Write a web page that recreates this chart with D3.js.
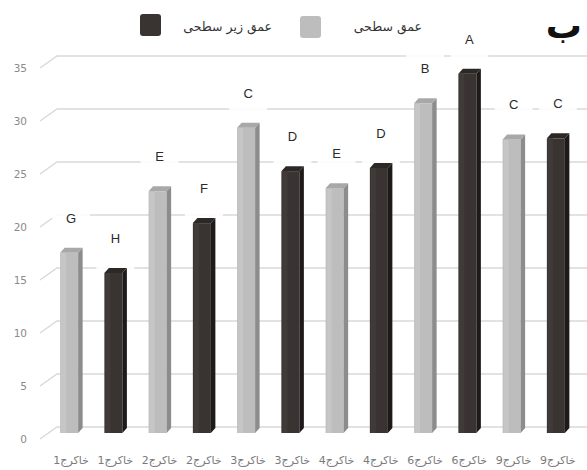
<!DOCTYPE html>
<html>
<head>
<meta charset="utf-8">
<script src="https://cdn.jsdelivr.net/npm/d3@7"></script>
<style>
  html, body { margin: 0; padding: 0; background: #fff; }
  svg { display: block; }
</style>
</head>
<body>
<svg id="chart" width="587" height="470"></svg>
<script>
// Sites along the x axis (each site has a surface and a subsurface bar)
const sites = ["خاکرج1", "خاکرج2", "خاکرج3", "خاکرج4", "خاکرج6", "خاکرج9"];
const seriesNames = ["عمق سطحی", "عمق زیر سطحی"];
const surfaceValues = [17.0, 22.8, 28.8, 23.1, 31.1, 27.7];
const subsurfaceValues = [15.1, 19.8, 24.7, 25.0, 33.9, 27.8];
const surfaceLetters = ["G", "E", "C", "E", "B", "C"];
const subsurfaceLetters = ["H", "F", "D", "D", "A", "C"];
const yTicks = [0, 5, 10, 15, 20, 25, 30, 35];
const panelLabel = "ب";

// Flat table: surface then subsurface for every site
const rows = [];
sites.forEach((s, i) => {
  rows.push({ id: i * 2, site: s, series: 0, value: surfaceValues[i], letter: surfaceLetters[i] });
  rows.push({ id: i * 2 + 1, site: s, series: 1, value: subsurfaceValues[i], letter: subsurfaceLetters[i] });
});

const palette = [
  { front: "#bdbdbd", light: "#c6c6c6", side: "#8c8c8c", top: "#a8a8a8" },
  { front: "#393432", light: "#403b39", side: "#1e1a19", top: "#2c2826" }
];

const svg = d3.select("#chart");

const y = d3.scaleLinear().domain([0, 35]).range([427, 56]);
const x = d3.scaleBand()
  .domain(rows.map(d => d.id))
  .range([47, 578])
  .paddingInner(0.593)
  .paddingOuter(0.2966);

const dx = 4.5, dy = -5;        // bar depth offset
const front = v => y(v) + 6;    // front edge of a bar at value v
const floorY = front(0);

// Back-wall gridlines with the perspective floor stub on the left
const grid = svg.append("g").attr("class", "grid");
grid.selectAll("path")
  .data(yTicks)
  .join("path")
  .attr("d", t => `M40,${y(t) + 12} L57,${y(t)} L587,${y(t)}`)
  .attr("fill", "none")
  .attr("stroke", "#d9d9d9")
  .attr("stroke-width", 1.4);

// Y axis tick labels
const yAxis = d3.axisLeft(y).tickValues(yTicks).tickSize(0).tickPadding(0);
const ya = svg.append("g").attr("transform", "translate(27,12)").call(yAxis);
ya.select(".domain").remove();
ya.selectAll("text")
  .attr("fill", "#8a8a8a")
  .attr("font-family", "'DejaVu Sans', sans-serif")
  .attr("font-size", 10.5);

// Label backgrounds (white boxes that mask the gridlines)
svg.append("g").selectAll("rect")
  .data(rows)
  .join("rect")
  .attr("x", d => x(d.id) + x.bandwidth() / 2 + 2 - 19)
  .attr("y", d => front(d.value) - 52)
  .attr("width", 38)
  .attr("height", 48)
  .attr("fill", "#fff")
  .attr("opacity", 0.9);

// Bars
const bars = svg.append("g").selectAll("g")
  .data(rows)
  .join("g");

bars.append("rect")
  .attr("x", d => x(d.id))
  .attr("y", d => front(d.value))
  .attr("width", x.bandwidth())
  .attr("height", d => floorY - front(d.value))
  .attr("fill", d => palette[d.series].front);

bars.append("rect")
  .attr("x", d => x(d.id) + 1)
  .attr("y", d => front(d.value))
  .attr("width", 5)
  .attr("height", d => floorY - front(d.value))
  .attr("fill", d => palette[d.series].light);

bars.append("path")
  .attr("d", d => {
    const x1 = x(d.id) + x.bandwidth(), t = front(d.value);
    return `M${x1},${t} L${x1 + dx},${t + dy} L${x1 + dx},${floorY + dy} L${x1},${floorY} Z`;
  })
  .attr("fill", d => palette[d.series].side);

bars.append("path")
  .attr("d", d => {
    const x0 = x(d.id), x1 = x0 + x.bandwidth(), t = front(d.value);
    return `M${x0},${t} L${x0 + dx},${t + dy} L${x1 + dx},${t + dy} L${x1},${t} Z`;
  })
  .attr("fill", d => palette[d.series].top);

// Letter labels above bars
svg.append("g").selectAll("text")
  .data(rows)
  .join("text")
  .attr("x", d => x(d.id) + x.bandwidth() / 2 + 2)
  .attr("y", d => front(d.value) - 30)
  .attr("text-anchor", "middle")
  .attr("font-family", "'Liberation Sans', Arial, sans-serif")
  .attr("font-size", 13)
  .attr("fill", "#2b2b2b")
  .text(d => d.letter);

// X axis category labels
svg.append("g").selectAll("text")
  .data(rows)
  .join("text")
  .attr("x", d => x(d.id) + x.bandwidth() / 2 + 2)
  .attr("y", 464)
  .attr("text-anchor", "middle")
  .attr("font-family", "'DejaVu Sans', sans-serif")
  .attr("font-size", 11)
  .attr("fill", "#7a7a7a")
  .text(d => d.site);

// Legend
const legend = svg.append("g");
const legendItems = [
  { name: seriesNames[1], series: 1, sx: 140, sy: 14, tx: 272 },
  { name: seriesNames[0], series: 0, sx: 300, sy: 16, tx: 422 }
];
legend.selectAll("rect")
  .data(legendItems)
  .join("rect")
  .attr("x", d => d.sx)
  .attr("y", d => d.sy)
  .attr("width", 21)
  .attr("height", 22)
  .attr("rx", 3)
  .attr("fill", d => palette[d.series].front);
legend.selectAll("text")
  .data(legendItems)
  .join("text")
  .attr("x", d => d.tx)
  .attr("y", 31)
  .attr("text-anchor", "end")
  .attr("font-family", "'DejaVu Sans', sans-serif")
  .attr("font-size", 12.5)
  .attr("fill", "#333")
  .text(d => d.name);

// Panel label
svg.append("text")
  .attr("x", 582)
  .attr("y", 38)
  .attr("text-anchor", "end")
  .attr("font-family", "'DejaVu Sans', sans-serif")
  .attr("font-weight", "bold")
  .attr("font-size", 36)
  .attr("fill", "#111")
  .text(panelLabel);
</script>
</body>
</html>
